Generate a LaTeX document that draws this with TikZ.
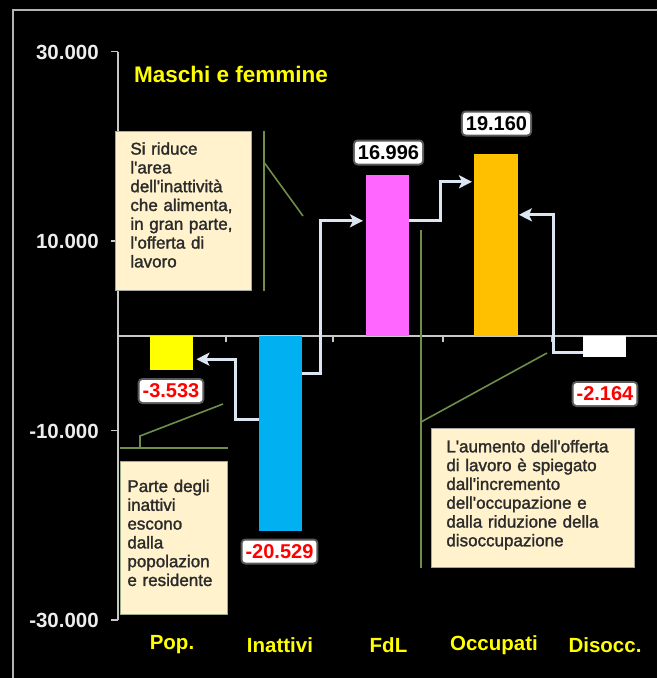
\documentclass[tikz,border=0pt]{standalone}
\usepackage{fontspec}
\setmainfont{Liberation Sans}
\newfontfamily\notefont{Liberation Sans}[FakeBold=1.6]
\usetikzlibrary{arrows.meta}
\definecolor{popc}{HTML}{FFFF00}
\definecolor{inattc}{HTML}{00B0F0}
\definecolor{fdlc}{HTML}{FF66FF}
\definecolor{occc}{HTML}{FFC000}
\definecolor{notefill}{HTML}{FFF2CC}
\definecolor{notetext}{HTML}{2B2B2B}
\definecolor{callc}{HTML}{6E8E4A}
\definecolor{connc}{HTML}{DCE6F2}
\definecolor{axisc}{HTML}{C8C8C8}
\definecolor{framec}{HTML}{B4B4B4}
\tikzset{
  bar/.style={draw=none, inner sep=0pt},
  axisline/.style={draw=axisc, line width=1.4pt},
  ticklab/.style={anchor=east, text=white!93!black, font=\bfseries\fontsize{20.5}{22}\selectfont, inner sep=0pt},
  catlab/.style={text=popc, font=\bfseries\fontsize{20.5}{22}\selectfont, inner sep=0pt},
  val/.style={fill=white, rounded corners=3pt, inner xsep=3pt, inner ysep=1pt, minimum height=22pt,
    font=\bfseries\fontsize{20}{22}\selectfont,
    preaction={draw=white, line width=4pt, opacity=0.35}},
  note/.style={fill=notefill, draw=gray!70, line width=0.8pt, anchor=north west, align=left,
    text=notetext, font=\notefont\fontsize{17}{18.8}\selectfont, inner ysep=0pt},
  callout/.style={draw=callc, line width=1.6pt},
  conn/.style={draw=connc, line width=3pt, -{Stealth[length=13pt,width=13pt,inset=3pt]}},
}
\begin{document}
\begin{tikzpicture}[x=1pt,y=-1pt]
\useasboundingbox (0,0) rectangle (657,678);
\clip (0,0) rectangle (657,678);
\fill[black] (0,0) rectangle (657,678);
\draw[framec, line width=2pt] (13,10) rectangle (690,700);

% axes
\draw[axisline] (118,51.5) -- (118,620);
\foreach \yy in {51.5,241,430.5,620} \draw[axisline] (111,\yy) -- (118,\yy);
\draw[axisline] (118,336) -- (665,336);
\foreach \xx in {226,333,443,552} \draw[axisline] (\xx,336) -- (\xx,341.5);

\node[ticklab] (t1) at (99,52) {30.000};
\node[ticklab] (t2) at (99,241) {10.000};
\node[ticklab] (t3) at (99,431) {-10.000};
\node[ticklab] (t4) at (99,620) {-30.000};

% title
\node[anchor=west, text=popc, font=\bfseries\fontsize{22.5}{24}\selectfont, inner sep=0pt] (title) at (134,74) {Maschi e femmine};

% bars
\node[bar, fill=popc, minimum width=43pt, minimum height=33.4pt, anchor=north west] (pop) at (150,336) {};
\node[bar, fill=inattc, minimum width=43pt, minimum height=194.3pt, anchor=north west] (inatt) at (259,336) {};
\node[bar, fill=fdlc, minimum width=43pt, minimum height=160.9pt, anchor=south west] (fdl) at (366,336) {};
\node[bar, fill=occc, minimum width=44pt, minimum height=181.4pt, anchor=south west] (occ) at (474,336) {};
\node[bar, fill=white, minimum width=43pt, minimum height=20.5pt, anchor=north west] (dis) at (583,336) {};

% category labels
\node[catlab] (c1) at (172,645) {Pop.};
\node[catlab] (c2) at (280,645) {Inattivi};
\node[catlab] (c3) at (388.5,645) {FdL};
\node[catlab] (c4) at (494,645) {Occupati};
\node[catlab] (c5) at (605,645) {Disocc.};

% connectors
\draw[conn] ([yshift=14.15pt]inatt.west) -- ++(-24,0) |- ([xshift=3pt,yshift=-6.3pt]pop.east);
\draw[conn] ([yshift=60.15pt]inatt.east) -- ++(18,0) |- ([xshift=-3pt,yshift=34.55pt]fdl.west);
\draw[conn] ([yshift=34.55pt]fdl.east) -- ++(31,0) |- ([xshift=-2pt,yshift=63.3pt]occ.west);
\draw[conn] ([yshift=-5.75pt]dis.west) -- ++(-30,0) |- ([xshift=0.5pt,yshift=30.3pt]occ.east);

% value labels
\node[val, text=black] (v3) at (388.5,152.5) {16.996};
\node[val, text=black] (v4) at (496.5,123.5) {19.160};
\node[val, text=red] (v1) at (171,391) {-3.533};
\node[val, text=red] (v2) at (279.5,551.5) {-20.529};
\node[val, text=red] (v5) at (605,394) {-2.164};

% notes
\node[note, minimum width=136pt, minimum height=159pt, text width=106pt, inner xsep=15pt] (n1) at (115,131)
  {Si riduce\\l'area\\dell'inattività\\che alimenta,\\in gran parte,\\l'offerta di\\lavoro\par\vspace{12pt}};
\node[note, draw=callc!70!white, minimum width=107pt, minimum height=153pt, text width=93pt, inner xsep=7pt] (n2) at (120,461)
  {Parte degli\\inattivi\\escono\\dalla\\popolazion\\e residente\par\vspace{10pt}};
\node[note, minimum width=203pt, minimum height=139pt, text width=173pt, inner xsep=15pt] (n3) at (431,428)
  {L'aumento dell'offerta\\di lavoro è spiegato\\dall'incremento\\dell'occupazione e\\dalla riduzione della\\disoccupazione\par\vspace{6pt}};

% callouts
\coordinate (p1) at (303,216);
\coordinate (p2a) at (140,436);
\coordinate (p2) at (223,404);
\coordinate (p3) at (547,353);
\coordinate (q3top) at (421,230);
\coordinate (q3mid) at (421,422);
\draw[callout] ([xshift=12pt]n1.north east) -- ([xshift=12pt]n1.south east);
\draw[callout] ([xshift=12pt,yshift=-31pt]n1.north east) -- (p1);
\draw[callout] ([yshift=13pt]n2.north west) -- ([yshift=13pt]n2.north east);
\draw[callout] ([xshift=20pt,yshift=13pt]n2.north west) -- (p2a) -- (p2);
\draw[callout] (q3top) -- (q3top |- n3.south);
\draw[callout] (q3mid) -- (p3);
\end{tikzpicture}
\end{document}
